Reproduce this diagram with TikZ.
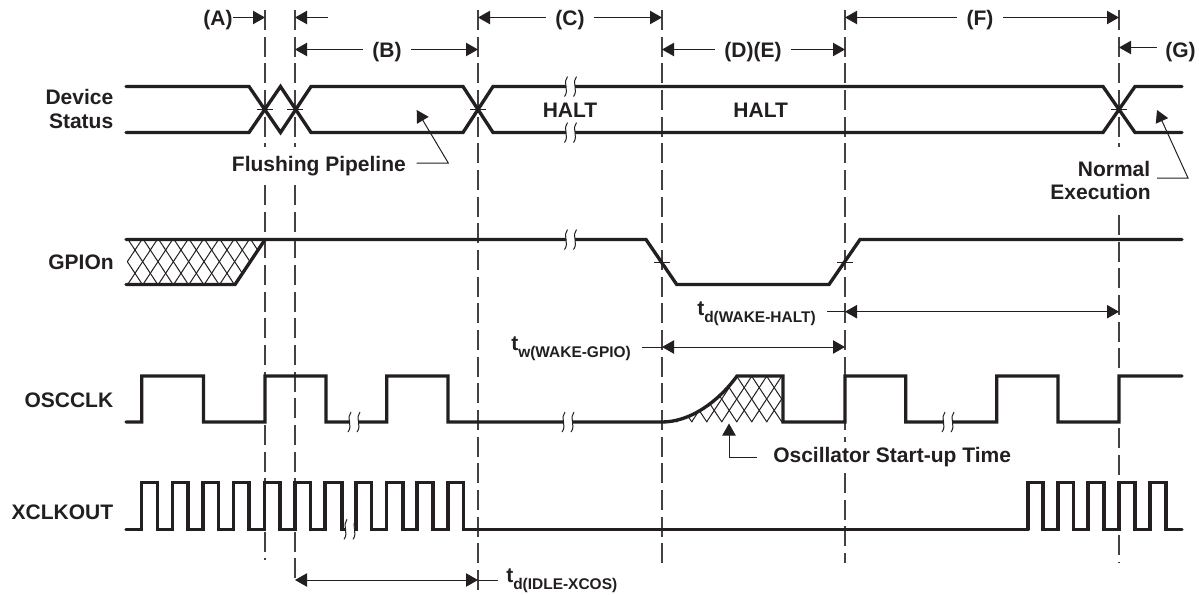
\documentclass[tikz,border=0pt]{standalone}
\usepackage{fontspec}
\setmainfont{Liberation Sans}
\usetikzlibrary{arrows.meta}
\definecolor{ink}{HTML}{231F20}
\newcommand\tbrk[2]{%
  \fill[white] ({#1-4.5},{#2-3}) rectangle ({#1+4.5},{#2+3});
  \foreach \dx in {-4.5,4.5}{
    \draw[thinline] ({#1+\dx+1.5},{#2-10}) .. controls ({#1+\dx-3.5},{#2-5}) and ({#1+\dx+3.5},{#2+4}) .. ({#1+\dx-1.5},{#2+10});
  }}
\newcommand\tsub[2]{t\raisebox{-0.36em}{\fontsize{11.6pt}{11.6pt}\selectfont #2}}
\tikzset{
  wave/.style={draw=ink,line width=2.5pt,line cap=round,line join=miter},
  thinline/.style={draw=ink,line width=0.75pt},
  guide/.style={draw=ink!85,line width=0.8pt,dash pattern=on 15pt off 5pt},
  hatchline/.style={draw=ink,line width=0.75pt},
  dim/.style={draw=ink,line width=0.75pt,-{Triangle[length=9pt,width=10pt]}},
  lbl/.style={font=\fontsize{15.75pt}{18pt}\selectfont\bfseries,text=ink,inner sep=0pt},
  gaplbl/.style={lbl,inner ysep=0pt,inner xsep=7pt},
}
\begin{document}
\begin{tikzpicture}[x=0.75pt,y=-0.75pt]
\useasboundingbox (0,0) rectangle (1199,594);
\fill[white] (0,0) rectangle (1199,594);
% reference coordinates
\coordinate (v1) at (265,0);
\coordinate (v2) at (295,0);
\coordinate (v3) at (478,0);
\coordinate (v4) at (662,0);
\coordinate (v5) at (845,0);
\coordinate (v6) at (1119,0);
\coordinate (r1) at (0,17.5);
\coordinate (r2) at (0,49.5);
\coordinate (r3) at (0,47.5);
\coordinate (r4) at (0,311.7);
\coordinate (r5) at (0,347);
\coordinate (r6) at (0,580);
% guides
\draw[guide] (265,10) -- (265,147);
\draw[guide] (265,185) -- (265,560);
\draw[guide] (295,10) -- (295,147);
\draw[guide] (295,185) -- (295,583);
\draw[guide] (478,10) -- (478,590);
\draw[guide] (662,10) -- (662,563);
\draw[guide] (845,10) -- (845,442);
\draw[guide] (845,473) -- (845,563);
\draw[guide] (1119,10) -- (1119,147);
\draw[guide] (1119,215) -- (1119,563);
% hatch GPIO
\begin{scope}
\clip (127,239.5) -- (265,239.5) -- (235,284.5) -- (127,284.5) -- cycle;
\foreach \k in {-3,...,12}{
  \draw[hatchline] ({135+\k*15.33-16},{250-24.3}) -- ({135+\k*15.33+48},{250+72.9});
  \draw[hatchline] ({135+\k*15.33+16},{250-24.3}) -- ({135+\k*15.33-48},{250+72.9});
}
\end{scope}
% hatch oscillator
\begin{scope}
\clip (662,422) .. controls (690,422) and (718,402) .. (737,376) -- (783,376) -- (783,422) -- cycle;
\foreach \k in {-4,...,8}{
  \draw[hatchline] ({721.7+\k*15-16},{399-24.3}) -- ({721.7+\k*15+32},{399+48.6});
  \draw[hatchline] ({721.7+\k*15+16},{399-24.3}) -- ({721.7+\k*15-32},{399+48.6});
}
\end{scope}
% device status
\draw[wave] (126,86.5) -- (249,86.5) -- (280.5,132.5) -- (311,86.5) -- (463,86.5) -- (493,132.5) -- (1103,132.5) -- (1135,86.5) -- (1182,86.5);
\draw[wave] (126,132.5) -- (249,132.5) -- (280.5,86.5) -- (311,132.5) -- (463,132.5) -- (493,86.5) -- (1103,86.5) -- (1135,132.5) -- (1182,132.5);
\foreach \x in {265,295,478,1119} \draw[thinline] ({\x-8},109.5) -- ({\x+8},109.5);
\tbrk{570.5}{86.5}
\tbrk{570.5}{132.5}
% GPIOn
\draw[wave] (126,239.5) -- (646,239.5) -- (676.7,284.5) -- (829,284.5) -- (860,239.5) -- (1182,239.5);
\draw[wave] (126,284.5) -- (235,284.5) -- (265,239.5);
\foreach \x in {662,845} \draw[thinline] ({\x-8},262.5) -- ({\x+8},262.5);
\tbrk{570.5}{239.5}
% OSCCLK
\draw[wave] (126,422) -- (141.7,422) -- (141.7,376) -- (203.5,376) -- (203.5,422) -- (265,422) -- (265,376) -- (326,376) -- (326,422) -- (386.7,422) -- (386.7,376) -- (448,376) -- (448,422) -- (662,422) .. controls (690,422) and (718,402) .. (737,376) -- (783,376) -- (783,422) -- (845,422) -- (845,376) -- (905.7,376) -- (905.7,422) -- (996.7,422) -- (996.7,376) -- (1058,376) -- (1058,422) -- (1119,422) -- (1119,376) -- (1182,376);
\tbrk{354}{422}
\tbrk{568}{422}
\tbrk{948}{422}
% XCLKOUT
\draw[wave] (126,529.3) -- (141.7,529.3)
  \foreach \r/\f in {141.7/157.3,172.5/188,203/218.5,233.5/249,264.5/280,295/310.5,325/342,356/371.7,386.7/403,417/433,448/463.3}{
    -- (\r,529.3) -- (\r,482.7) -- (\f,482.7) -- (\f,529.3)}
  -- (1028,529.3);
\draw[wave] (1028,529.3) -- (1028,482.7) -- (1043,482.7) -- (1043,529.3) -- (1058,529.3) -- (1058,482.7) -- (1073.3,482.7) -- (1073.3,529.3) -- (1088,529.3) -- (1088,482.7) -- (1104,482.7) -- (1104,529.3) -- (1119,529.3) -- (1119,482.7) -- (1135,482.7) -- (1135,529.3) -- (1150,529.3) -- (1150,482.7) -- (1166,482.7) -- (1166,529.3) -- (1182,529.3);
\tbrk{350}{529.3}
% signal names
\node[lbl,anchor=base east] (nDevice) at (113.5,104) {Device};
\node[lbl,anchor=base east] (nStatus) at (113.5,128.3) {Status};
\node[lbl,anchor=base east] (nGpio) at (114,269.5) {GPIOn};
\node[lbl,anchor=base east] (nOsc) at (113.5,407.3) {OSCCLK};
\node[lbl,anchor=base east] (nXclk) at (113.5,519.5) {XCLKOUT};
\node[lbl,anchor=base] (nHaltA) at (570,117) {HALT};
\node[lbl,anchor=base] (nHaltB) at (760.7,117) {HALT};
% interval labels
\node[lbl,anchor=base] (lA) at (218,25) {(A)};
\node[gaplbl,anchor=base] (lB) at (387,57) {(B)};
\node[gaplbl,anchor=base] (lC) at (570,25) {(C)};
\node[gaplbl,anchor=base] (lDE) at (753,57) {(D)(E)};
\node[gaplbl,anchor=base] (lF) at (980,25) {(F)};
\node[lbl,anchor=base west] (lG) at (1165,57) {(G)};
\draw[dim] (lA.east|-r1) -- (v1|-r1);
\coordinate (bstart) at (328,17.5);
\draw[dim] (bstart) -- (v2|-r1);
\draw[dim] (lB.west|-r2) -- (v2|-r2);
\draw[dim] (lB.east|-r2) -- (v3|-r2);
\draw[dim] (lC.west|-r1) -- (v3|-r1);
\draw[dim] (lC.east|-r1) -- (v4|-r1);
\draw[dim] (lDE.west|-r2) -- (v4|-r2);
\draw[dim] (lDE.east|-r2) -- (v5|-r2);
\draw[dim] (lF.west|-r1) -- (v5|-r1);
\draw[dim] (lF.east|-r1) -- (v6|-r1);
\coordinate (gstart) at (1157,47.5);
\draw[dim] (gstart) -- (v6|-r3);
% callouts
\node[lbl,anchor=base west] (nFlush) at (231.7,171.7) {Flushing Pipeline};
\coordinate (fbend) at (448.3,163);
\coordinate (ftail) at (416.7,163);
\coordinate (ftip) at (416.7,110);
\draw[dim] (ftail) -- (fbend) -- (ftip);
\node[lbl,anchor=base east] (nNormal) at (1150.5,176.7) {Normal};
\node[lbl,anchor=base east] (nExec) at (1151,199) {Execution};
\coordinate (ntail) at (1157,178);
\coordinate (nbend) at (1188,178);
\coordinate (ntip) at (1157,110);
\draw[dim] (ntail) -- (nbend) -- (ntip);
\node[lbl,anchor=base west] (nStart) at (773,462.7) {Oscillator Start-up Time};
\coordinate (otail) at (757,457);
\coordinate (obend) at (729,457);
\coordinate (otip) at (729,423.5);
\draw[dim] (otail) -- (obend) -- (otip);
% timing labels
\node[lbl,anchor=base west] (tdw) at (697,315) {\tsub{d}{d(WAKE-HALT)}};
\node[lbl,anchor=base west] (twg) at (511,350) {\tsub{w}{w(WAKE-GPIO)}};
\node[lbl,anchor=base west] (tdi) at (506,582) {\tsub{d}{d(IDLE-XCOS)}};
\coordinate (a1) at (827,311.7);
\draw[thinline] (a1) -- (v5|-r4);
\draw[dim] (952,311.7) -- (v5|-r4);
\draw[dim] (952,311.7) -- (v6|-r4);
\coordinate (a2) at (642,347);
\draw[thinline] (a2) -- (v4|-r5);
\draw[dim] (750,347) -- (v4|-r5);
\draw[dim] (750,347) -- (v5|-r5);
\coordinate (a3) at (498,580);
\draw[thinline] (a3) -- (v3|-r6);
\draw[dim] (385,580) -- (v2|-r6);
\draw[dim] (385,580) -- (v3|-r6);
\end{tikzpicture}
\end{document}
